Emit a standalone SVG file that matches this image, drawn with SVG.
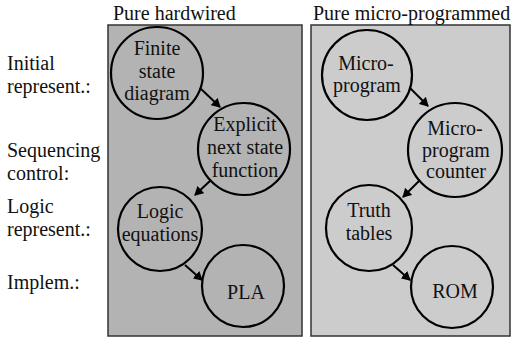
<svg xmlns="http://www.w3.org/2000/svg" width="512" height="338" viewBox="0 0 512 338">
<defs>
<style>
text{font-family:"Times New Roman","Liberation Serif",serif;font-size:20px;fill:#111}
.c{text-anchor:middle}
.n{fill:none;stroke:#000;stroke-width:2.2}
.e{stroke:#000;stroke-width:2;fill:none;marker-end:url(#ah)}
</style>
<marker id="ah" markerWidth="10" markerHeight="10" refX="8" refY="5" orient="auto" markerUnits="userSpaceOnUse">
<path d="M0,0 L9,5 L0,10 Z" fill="#000"/>
</marker>
</defs>
<rect width="512" height="338" fill="#fff"/>
<g id="panel-hardwired">
<rect x="108" y="25" width="194" height="311" fill="#b3b3b3" stroke="#333" stroke-width="1.5"/>
<text x="113" y="20">Pure hardwired</text>
</g>
<g id="panel-micro">
<rect x="311" y="25" width="199" height="311" fill="#cccccc" stroke="#333" stroke-width="1.5"/>
<text x="313" y="20">Pure micro-programmed</text>
</g>
<g id="row-labels">
<text x="7" y="70">Initial</text>
<text x="7" y="93">represent.:</text>
<text x="7" y="157">Sequencing</text>
<text x="7" y="180">control:</text>
<text x="7" y="213">Logic</text>
<text x="7" y="236">represent.:</text>
<text x="7" y="289">Implem.:</text>
</g>
<g id="connectors">
<line class="e" x1="200" y1="88" x2="220" y2="107"/>
<line class="e" x1="211" y1="180" x2="195" y2="195"/>
<line class="e" x1="185" y1="265" x2="202" y2="280"/>
<line class="e" x1="410" y1="88" x2="428" y2="106"/>
<line class="e" x1="420" y1="180" x2="403" y2="197"/>
<line class="e" x1="393" y1="265" x2="410" y2="280"/>
</g>
<g id="n-fsd">
<circle class="n" cx="157" cy="73" r="46"/>
<text class="c" x="157" y="55">Finite</text>
<text class="c" x="157" y="78">state</text>
<text class="c" x="157" y="100">diagram</text>
</g>
<g id="n-explicit">
<circle class="n" cx="244" cy="149" r="46"/>
<text class="c" x="245" y="131">Explicit</text>
<text class="c" x="245" y="154">next state</text>
<text class="c" x="245" y="177">function</text>
</g>
<g id="n-logic">
<circle class="n" cx="160" cy="229" r="42"/>
<text class="c" x="160" y="218">Logic</text>
<text class="c" x="160" y="241">equations</text>
</g>
<g id="n-pla">
<circle class="n" cx="243" cy="286" r="41"/>
<text class="c" x="246" y="299">PLA</text>
</g>
<g id="n-microprogram">
<circle class="n" cx="367" cy="75" r="45"/>
<text class="c" x="366" y="70">Micro-</text>
<text class="c" x="367" y="92">program</text>
</g>
<g id="n-counter">
<circle class="n" cx="455" cy="150" r="47"/>
<text class="c" x="455" y="135">Micro-</text>
<text class="c" x="456" y="157">program</text>
<text class="c" x="456" y="178">counter</text>
</g>
<g id="n-truth">
<circle class="n" cx="369" cy="228" r="43"/>
<text class="c" x="369" y="217">Truth</text>
<text class="c" x="369" y="240">tables</text>
</g>
<g id="n-rom">
<circle class="n" cx="452" cy="287" r="41"/>
<text class="c" x="455" y="298">ROM</text>
</g>
</svg>
